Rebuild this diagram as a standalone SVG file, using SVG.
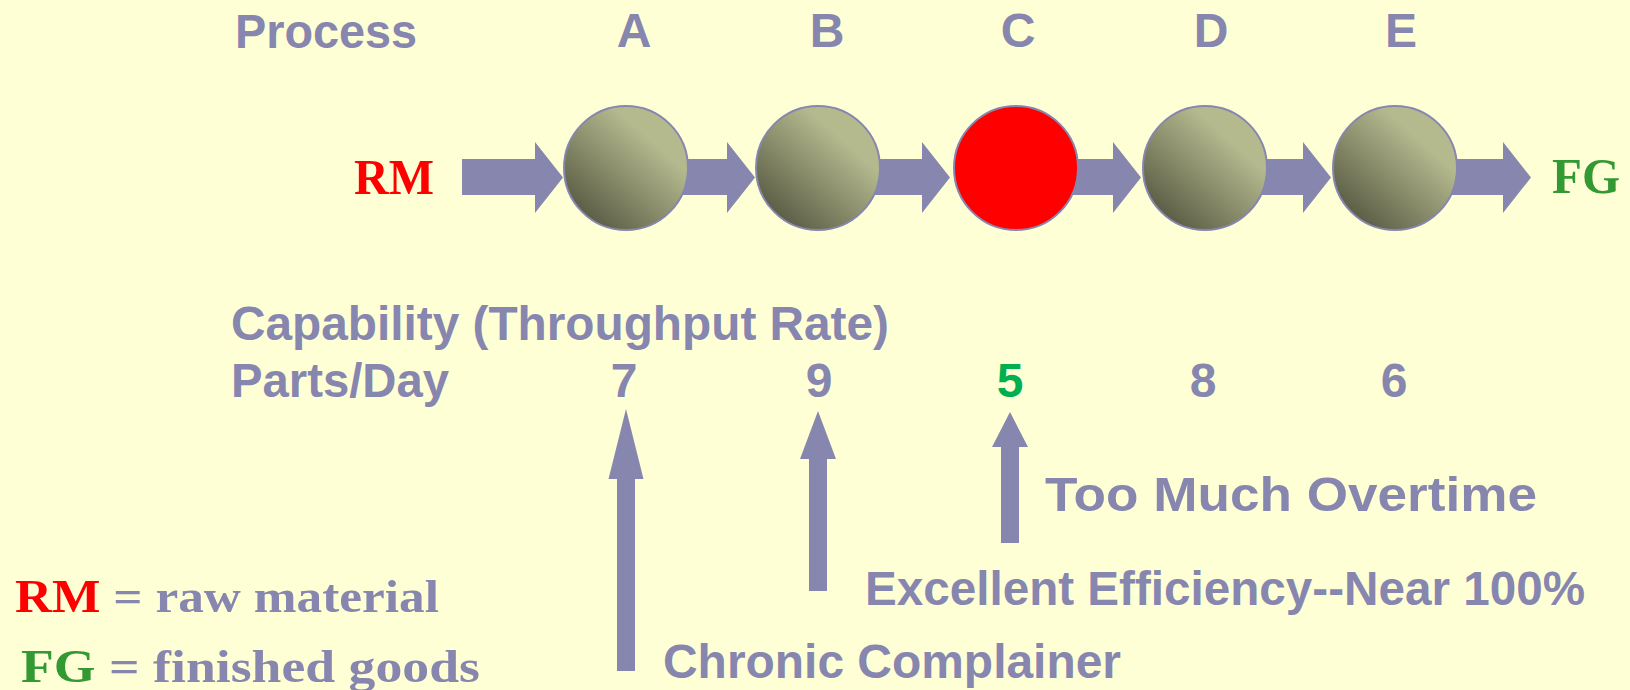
<svg xmlns="http://www.w3.org/2000/svg" width="1630" height="690" viewBox="0 0 1630 690">
<defs>
<linearGradient id="ball" x1="0.1" y1="0.95" x2="0.9" y2="0.05">
<stop offset="0.1" stop-color="#5E6148"/>
<stop offset="0.75" stop-color="#B4B98E"/>
</linearGradient>
<style>
.t{font-family:"Liberation Sans",Arial,sans-serif;font-weight:bold;font-size:48px;fill:#8686AF}
.c{text-anchor:middle}
.s{font-family:"Liberation Serif","Times New Roman",serif;font-weight:bold}
.arr{fill:#8686AF}
.node{stroke:#8686AF;stroke-width:2}
</style>
</defs>
<rect width="1630" height="690" fill="#FFFFD6"/>
<g id="connectors">
<polygon class="arr" points="462,159 535,159 535,142 563,177.5 535,213 535,195 462,195"/>
<polygon class="arr" points="660,159 727,159 727,142 755,177.5 727,213 727,195 660,195"/>
<polygon class="arr" points="850,159 922,159 922,142 950,177.5 922,213 922,195 850,195"/>
<polygon class="arr" points="1050,159 1113,159 1113,142 1141,177.5 1113,213 1113,195 1050,195"/>
<polygon class="arr" points="1240,159 1303,159 1303,142 1331,177.5 1303,213 1303,195 1240,195"/>
<polygon class="arr" points="1430,159 1503,159 1503,142 1531,177.5 1503,213 1503,195 1430,195"/>
<polygon class="arr" points="626,409 643.5,479 635,479 635,671 617,671 617,479 608.5,479"/>
<polygon class="arr" points="818,411 836,459 827,459 827,591 809,591 809,459 800,459"/>
<polygon class="arr" points="1010,412 1028,447 1019,447 1019,543 1001,543 1001,447 992,447"/>
</g>
<g id="header">
<text class="t" x="235" y="48" textLength="182" lengthAdjust="spacingAndGlyphs">Process</text>
</g>
<g id="nodeA">
<text class="t c" x="634" y="47">A</text>
<circle class="node" cx="626" cy="168" r="62" fill="url(#ball)"/>
<text class="t c" x="624" y="397">7</text>
</g>
<g id="nodeB">
<text class="t c" x="827" y="47">B</text>
<circle class="node" cx="818" cy="168" r="62" fill="url(#ball)"/>
<text class="t c" x="819" y="397">9</text>
</g>
<g id="nodeC">
<text class="t c" x="1018" y="47">C</text>
<circle class="node" cx="1016" cy="168" r="62" fill="#FF0000"/>
<text class="t c" x="1010" y="397" style="fill:#00B050">5</text>
</g>
<g id="nodeD">
<text class="t c" x="1211" y="47">D</text>
<circle class="node" cx="1205" cy="168" r="62" fill="url(#ball)"/>
<text class="t c" x="1203" y="397">8</text>
</g>
<g id="nodeE">
<text class="t c" x="1401" y="47">E</text>
<circle class="node" cx="1395" cy="168" r="62" fill="url(#ball)"/>
<text class="t c" x="1394" y="397">6</text>
</g>
<g id="rm">
<text class="s" x="354" y="194" font-size="50" textLength="80" lengthAdjust="spacingAndGlyphs" fill="#FF0000">RM</text>
</g>
<g id="fg">
<text class="s" x="1552" y="193" font-size="50" textLength="68" lengthAdjust="spacingAndGlyphs" fill="#339933">FG</text>
</g>
<g id="labels">
<text class="t" x="231" y="340" textLength="658" lengthAdjust="spacingAndGlyphs">Capability (Throughput Rate)</text>
<text class="t" x="231" y="397" textLength="218" lengthAdjust="spacingAndGlyphs">Parts/Day</text>
<text class="t" x="1045" y="511" font-size="52" textLength="492" lengthAdjust="spacingAndGlyphs">Too Much Overtime</text>
<text class="t" x="865" y="605" textLength="720" lengthAdjust="spacingAndGlyphs">Excellent Efficiency--Near 100%</text>
<text class="t" x="663" y="678" textLength="458" lengthAdjust="spacingAndGlyphs">Chronic Complainer</text>
</g>
<g id="legend">
<text class="s" x="15" y="612" font-size="47" textLength="424" lengthAdjust="spacingAndGlyphs"><tspan fill="#FF0000">RM</tspan><tspan fill="#8686AF"> = raw material</tspan></text>
<text class="s" x="21" y="682" font-size="47" textLength="459" lengthAdjust="spacingAndGlyphs"><tspan fill="#339933">FG</tspan><tspan fill="#8686AF"> = finished goods</tspan></text>
</g>
</svg>
